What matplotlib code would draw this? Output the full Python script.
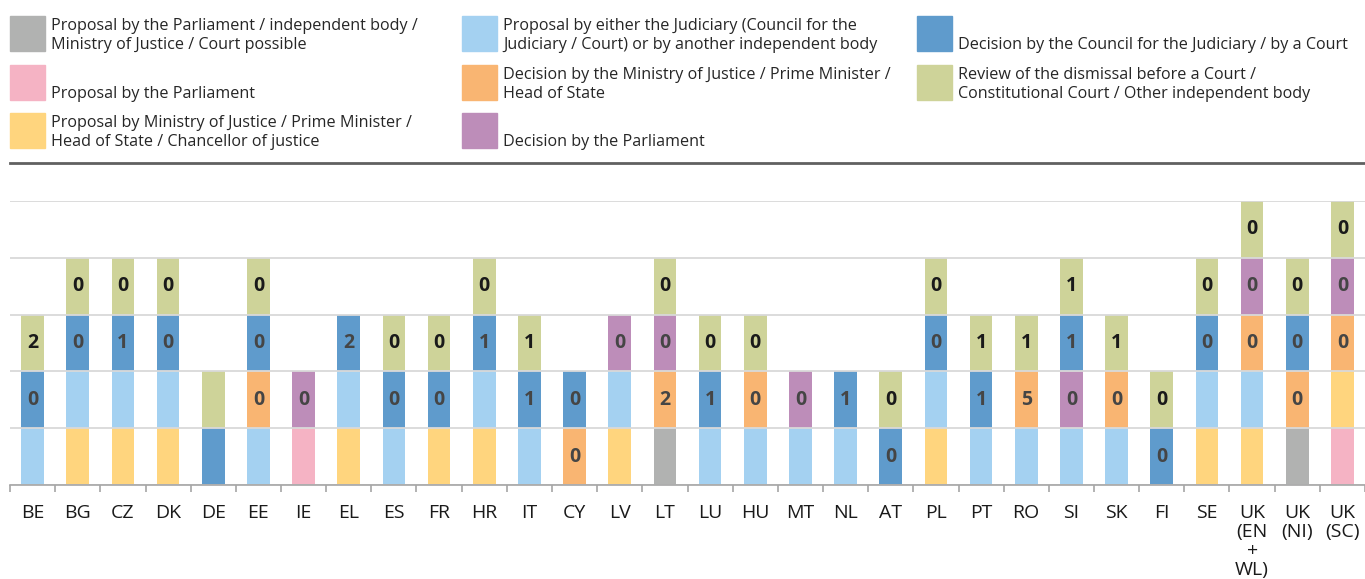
import matplotlib.pyplot as plt
from matplotlib.patches import Rectangle
from matplotlib.lines import Line2D
import numpy as np

plt.rcParams['font.family'] = ['Open Sans', 'DejaVu Sans']

# Member states along the x axis
countries = ['BE', 'BG', 'CZ', 'DK', 'DE', 'EE', 'IE', 'EL', 'ES', 'FR',
             'HR', 'IT', 'CY', 'LV', 'LT', 'LU', 'HU', 'MT', 'NL', 'AT',
             'PL', 'PT', 'RO', 'SI', 'SK', 'FI', 'SE',
             'UK\n(EN\n+\nWL)', 'UK\n(NI)', 'UK\n(SC)']

# Legend labels for each stage of the dismissal procedure
stage_names = [
    'Proposal by the Parliament / independent body /\nMinistry of Justice / Court possible',
    'Proposal by the Parliament',
    'Proposal by Ministry of Justice / Prime Minister /\nHead of State / Chancellor of justice',
    'Proposal by either the Judiciary (Council for the\nJudiciary / Court) or by another independent body',
    'Decision by the Ministry of Justice / Prime Minister /\nHead of State',
    'Decision by the Parliament',
    'Decision by the Council for the Judiciary / by a Court',
    'Review of the dismissal before a Court /\nConstitutional Court / Other independent body',
]
stage_colors = ['#b1b2b1', '#f5b3c4', '#ffd57e', '#a4d1f1',
                '#f9b572', '#bd8db9', '#5f9bcc', '#ced399']

# 1 = stage exists in that country (one block per stage)
proposal_mixed = [0,0,0,0,0,0,0,0,0,0, 0,0,0,0,1,0,0,0,0,0, 0,0,0,0,0,0,0, 0,1,0]
proposal_parl = [0,0,0,0,0,0,1,0,0,0, 0,0,0,0,0,0,0,0,0,0, 0,0,0,0,0,0,0, 0,0,1]
proposal_exec = [0,1,1,1,0,0,0,1,0,1, 1,0,0,1,0,0,0,0,0,0, 1,0,0,0,0,0,1, 1,0,1]
proposal_judic = [1,1,1,1,0,1,0,1,1,0, 1,1,0,1,0,1,1,1,1,0, 1,1,1,1,1,0,1, 1,0,0]
decision_exec = [0,0,0,0,0,1,0,0,0,0, 0,0,1,0,1,0,1,0,0,0, 0,0,1,0,1,0,0, 1,1,1]
decision_parl = [0,0,0,0,0,0,1,0,0,0, 0,0,0,1,1,0,0,1,0,0, 0,0,0,1,0,0,0, 1,0,1]
decision_judic = [1,1,1,1,1,1,0,1,1,1, 1,1,1,0,0,1,0,0,1,1, 1,1,0,1,0,1,1, 0,1,0]
review = [1,1,1,1,1,1,0,0,1,1, 1,1,0,0,1,1,1,0,0,1, 1,1,1,1,1,1,1, 1,1,1]

# Number of dismissed judges shown on each block (None = no figure)
N = None
n_decision_exec = [N,N,N,N,N,0,N,N,N,N, N,N,0,N,2,N,0,N,N,N, N,N,5,N,0,N,N, 0,0,0]
n_decision_parl = [N,N,N,N,N,N,0,N,N,N, N,N,N,0,0,N,N,0,N,N, N,N,N,0,N,N,N, 0,N,0]
n_decision_judic = [0,0,1,0,N,0,N,2,0,0, 1,1,0,N,N,1,N,N,1,0, 0,1,N,1,N,0,0, N,0,N]
n_review = [2,0,0,0,N,0,N,N,0,0, 0,1,N,N,0,0,0,N,N,0, 0,1,1,1,1,0,0, 0,0,0]

stages = [proposal_mixed, proposal_parl, proposal_exec, proposal_judic,
          decision_exec, decision_parl, decision_judic, review]
counts = [None, None, None, None,
          n_decision_exec, n_decision_parl, n_decision_judic, n_review]

W, H, DPI = 1365, 579, 100


def px_x(x):
    return x / W


def px_y(y):
    return 1 - y / H


fig = plt.figure(figsize=(W / DPI, H / DPI), dpi=DPI)
ax = fig.add_axes([px_x(10), px_y(485), px_x(1355), (485 - 201) / H])

x = np.arange(len(countries))
bottom = np.zeros(len(countries))
for i, (values, color) in enumerate(zip(stages, stage_colors)):
    values = np.array(values, dtype=float)
    ax.bar(x, values, width=0.5, bottom=bottom, color=color, zorder=2)
    if counts[i] is not None:
        txt_color = '#1a1a1a' if i == 7 else '#454545'
        for j, n in enumerate(counts[i]):
            if n is not None and values[j] > 0:
                ax.text(x[j], bottom[j] + values[j] / 2, str(n),
                        ha='center', va='center', fontsize=14,
                        fontweight='bold', color=txt_color, zorder=4)
    bottom += values

ax.set_xlim(-0.5, len(countries) - 0.5)
ax.set_ylim(0, 5)
ax.set_yticks(np.arange(0, 6))
ax.yaxis.grid(True, color='#d9d9d9', linewidth=1.3, zorder=3)
ax.set_axisbelow(False)
ax.tick_params(axis='y', left=False, labelleft=False)

ax.set_xticks(x)
ax.set_xticklabels(countries, fontsize=14, color='#1a1a1a', linespacing=1.05)
ax.set_xticks(np.arange(-0.5, len(countries)), minor=True)
ax.tick_params(axis='x', which='major', length=0, pad=14)
ax.tick_params(axis='x', which='minor', length=5, color='#a6a6a6', width=1.2)

for side in ['top', 'right', 'left']:
    ax.spines[side].set_visible(False)
ax.spines['bottom'].set_color('#a6a6a6')
ax.spines['bottom'].set_linewidth(1.2)
ax.spines['bottom'].set_zorder(5)

# Legend in three columns above the chart
col_x = [10, 462, 917]
row_y = [16, 65, 113]
for k, (name, color) in enumerate(zip(stage_names, stage_colors)):
    col, row = divmod(k, 3)
    sx, sy = col_x[col], row_y[row]
    fig.add_artist(Rectangle((px_x(sx), px_y(sy + 35)), px_x(35), 35 / H,
                             transform=fig.transFigure, color=color))
    fig.text(px_x(sx + 41), px_y(sy + 37), name, ha='left', va='bottom',
             fontsize=11.6, color='#262626', linespacing=1.22)

fig.add_artist(Line2D([px_x(10), 1], [px_y(163), px_y(163)],
                      transform=fig.transFigure, color='#606060', linewidth=2))

fig.savefig('out.png', dpi=DPI)
